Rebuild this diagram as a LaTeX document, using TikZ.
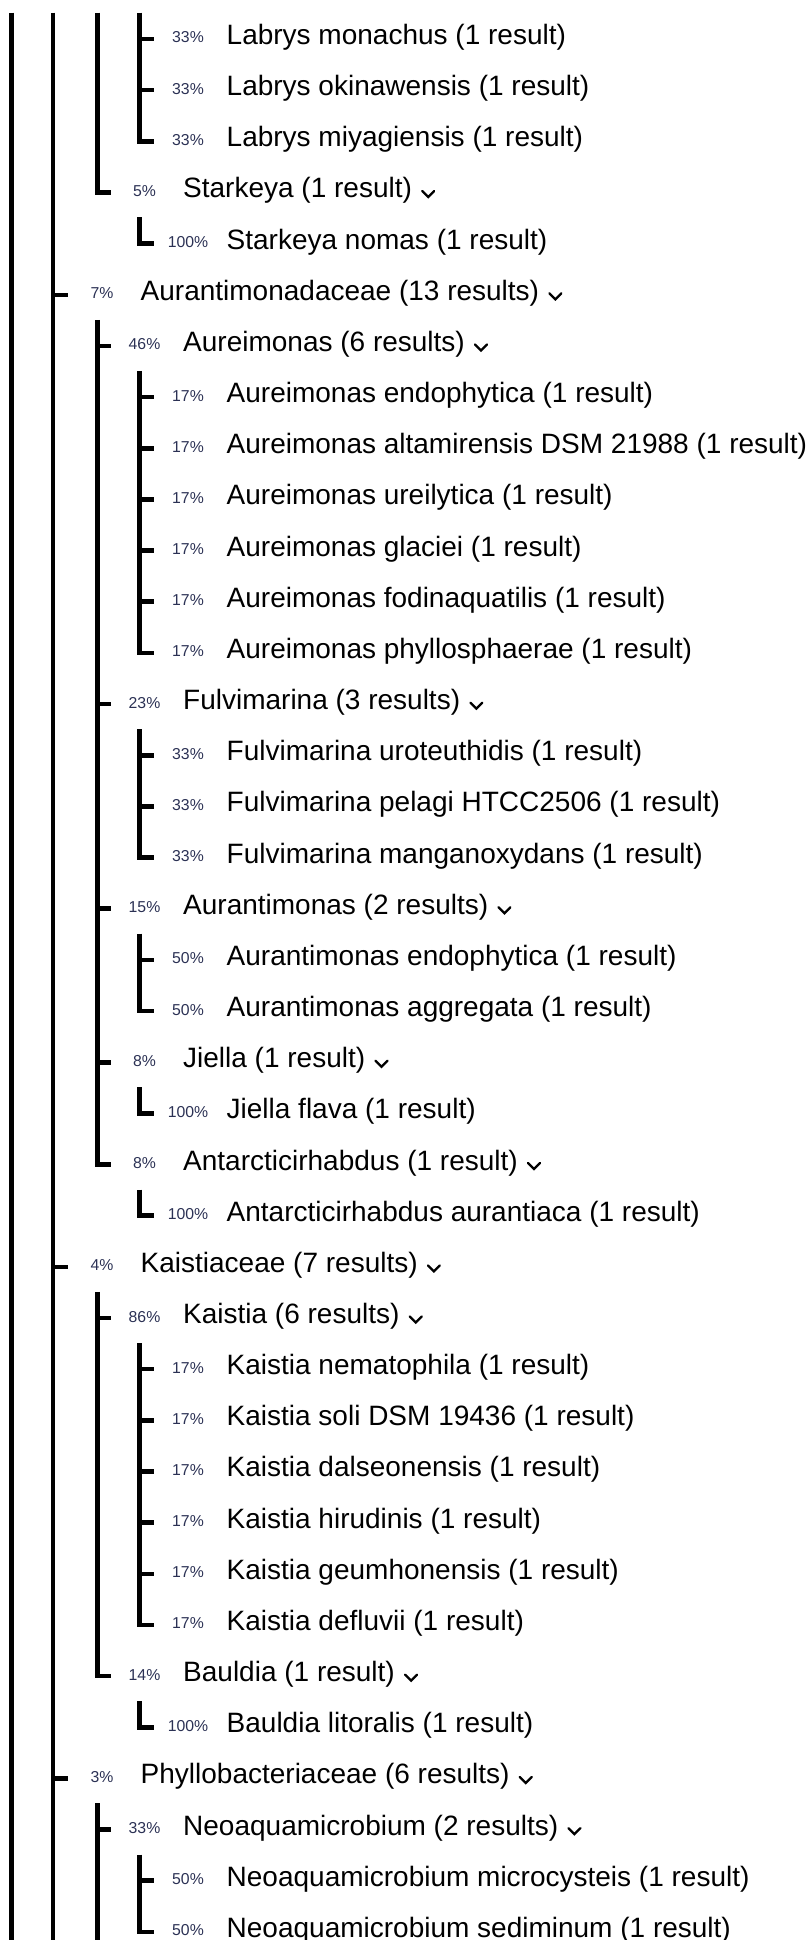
\documentclass[tikz,border=0pt]{standalone}
\usepackage{fontspec}
\setmainfont{Liberation Sans}
\usetikzlibrary{calc}
\definecolor{pctcol}{HTML}{2B3154}
\tikzset{
  txt/.style={anchor=base west,inner sep=0pt,font=\fontsize{28}{30}\selectfont,text=black},
  pct/.style={anchor=base,inner sep=0pt,font=\fontsize{15.8}{17}\selectfont,text=pctcol},
  tree/.style={line width=4.6pt,black},
  chevron/.style={line width=2.3pt,black,line cap=round,line join=miter}
}
\newcommand\trow[4]{%
  \pgfmathsetmacro\ry{39+51.16*#1}%
  \pgfmathsetmacro\rb{\ry+5.5}%
  \pgfmathsetmacro\rp{\ry+4}%
  \pgfmathsetmacro\px{#2+34}%
  \pgfmathsetmacro\tx{#2+72.5}%
  \coordinate (k#1) at (#2,\ry);
  \node[pct] (p#1) at (\px,\rp) {#3};
  \node[txt] (t#1) at (\tx,\rb) {#4};
}
\newcommand\chev[1]{\draw[chevron] ($(t#1.base east)+(10,-7)$) -- ++(6,6) -- ++(6,-6);}
\newcommand\grp[3]{\pgfmathsetmacro\gy{39+51.16*#3+25}\coordinate (#1) at (#2,\gy);}
\begin{document}
\begin{tikzpicture}[x=1pt,y=-1pt]
\useasboundingbox (0,0) rectangle (808,1940);
% rows
\trow{0}{154}{33\%}{Labrys monachus (1 result)}
\trow{1}{154}{33\%}{Labrys okinawensis (1 result)}
\trow{2}{154}{33\%}{Labrys miyagiensis (1 result)}
\trow{3}{110.5}{5\%}{Starkeya (1 result)}
\trow{4}{154}{100\%}{Starkeya nomas (1 result)}
\trow{5}{68}{7\%}{Aurantimonadaceae (13 results)}
\trow{6}{110.5}{46\%}{Aureimonas (6 results)}
\trow{7}{154}{17\%}{Aureimonas endophytica (1 result)}
\trow{8}{154}{17\%}{Aureimonas altamirensis DSM 21988 (1 result)}
\trow{9}{154}{17\%}{Aureimonas ureilytica (1 result)}
\trow{10}{154}{17\%}{Aureimonas glaciei (1 result)}
\trow{11}{154}{17\%}{Aureimonas fodinaquatilis (1 result)}
\trow{12}{154}{17\%}{Aureimonas phyllosphaerae (1 result)}
\trow{13}{110.5}{23\%}{Fulvimarina (3 results)}
\trow{14}{154}{33\%}{Fulvimarina uroteuthidis (1 result)}
\trow{15}{154}{33\%}{Fulvimarina pelagi HTCC2506 (1 result)}
\trow{16}{154}{33\%}{Fulvimarina manganoxydans (1 result)}
\trow{17}{110.5}{15\%}{Aurantimonas (2 results)}
\trow{18}{154}{50\%}{Aurantimonas endophytica (1 result)}
\trow{19}{154}{50\%}{Aurantimonas aggregata (1 result)}
\trow{20}{110.5}{8\%}{Jiella (1 result)}
\trow{21}{154}{100\%}{Jiella flava (1 result)}
\trow{22}{110.5}{8\%}{Antarcticirhabdus (1 result)}
\trow{23}{154}{100\%}{Antarcticirhabdus aurantiaca (1 result)}
\trow{24}{68}{4\%}{Kaistiaceae (7 results)}
\trow{25}{110.5}{86\%}{Kaistia (6 results)}
\trow{26}{154}{17\%}{Kaistia nematophila (1 result)}
\trow{27}{154}{17\%}{Kaistia soli DSM 19436 (1 result)}
\trow{28}{154}{17\%}{Kaistia dalseonensis (1 result)}
\trow{29}{154}{17\%}{Kaistia hirudinis (1 result)}
\trow{30}{154}{17\%}{Kaistia geumhonensis (1 result)}
\trow{31}{154}{17\%}{Kaistia defluvii (1 result)}
\trow{32}{110.5}{14\%}{Bauldia (1 result)}
\trow{33}{154}{100\%}{Bauldia litoralis (1 result)}
\trow{34}{68}{3\%}{Phyllobacteriaceae (6 results)}
\trow{35}{110.5}{33\%}{Neoaquamicrobium (2 results)}
\trow{36}{154}{50\%}{Neoaquamicrobium microcysteis (1 result)}
\trow{37}{154}{50\%}{Neoaquamicrobium sediminum (1 result)}
% chevrons
\foreach \i in {3,5,6,13,17,20,22,24,25,32,34,35}{\chev{\i}}
% level 1 and 2 lines
\coordinate (aT) at (11.7,12.7); \coordinate (aB) at (11.7,1940);
\coordinate (bT) at (53,12.7);   \coordinate (bB) at (53,1940);
\draw[tree] (aT) -- (aB);
\draw[tree] (bT) -- (bB);
\foreach \i in {5,24,34}{\draw[tree] (k\i -| bT) -- (k\i);}
% level 3 lines
\coordinate (cT) at (97.5,12.7);
\draw[tree] (cT) |- (k3);
\grp{cAur}{97.5}{5}
\draw[tree] (cAur) |- (k22);
\foreach \i in {6,13,17,20}{\draw[tree] (k\i -| cAur) -- (k\i);}
\grp{cKai}{97.5}{24}
\draw[tree] (cKai) |- (k32);
\draw[tree] (k25 -| cKai) -- (k25);
\grp{cPhy}{97.5}{34}
\coordinate (cPhyB) at (97.5,1940);
\draw[tree] (cPhy) -- (cPhyB);
\draw[tree] (k35 -| cPhy) -- (k35);
% level 4 lines
\coordinate (dT) at (139.5,12.7);
\draw[tree] (dT) |- (k2);
\foreach \i in {0,1}{\draw[tree] (k\i -| dT) -- (k\i);}
\grp{dSta}{139.5}{3}
\draw[tree] (dSta) |- (k4);
\grp{dAur}{139.5}{6}
\draw[tree] (dAur) |- (k12);
\foreach \i in {7,...,11}{\draw[tree] (k\i -| dAur) -- (k\i);}
\grp{dFul}{139.5}{13}
\draw[tree] (dFul) |- (k16);
\foreach \i in {14,15}{\draw[tree] (k\i -| dFul) -- (k\i);}
\grp{dAnt}{139.5}{17}
\draw[tree] (dAnt) |- (k19);
\draw[tree] (k18 -| dAnt) -- (k18);
\grp{dJie}{139.5}{20}
\draw[tree] (dJie) |- (k21);
\grp{dArc}{139.5}{22}
\draw[tree] (dArc) |- (k23);
\grp{dKai}{139.5}{25}
\draw[tree] (dKai) |- (k31);
\foreach \i in {26,...,30}{\draw[tree] (k\i -| dKai) -- (k\i);}
\grp{dBau}{139.5}{32}
\draw[tree] (dBau) |- (k33);
\grp{dNeo}{139.5}{35}
\draw[tree] (dNeo) |- (k37);
\draw[tree] (k36 -| dNeo) -- (k36);
\end{tikzpicture}
\end{document}
